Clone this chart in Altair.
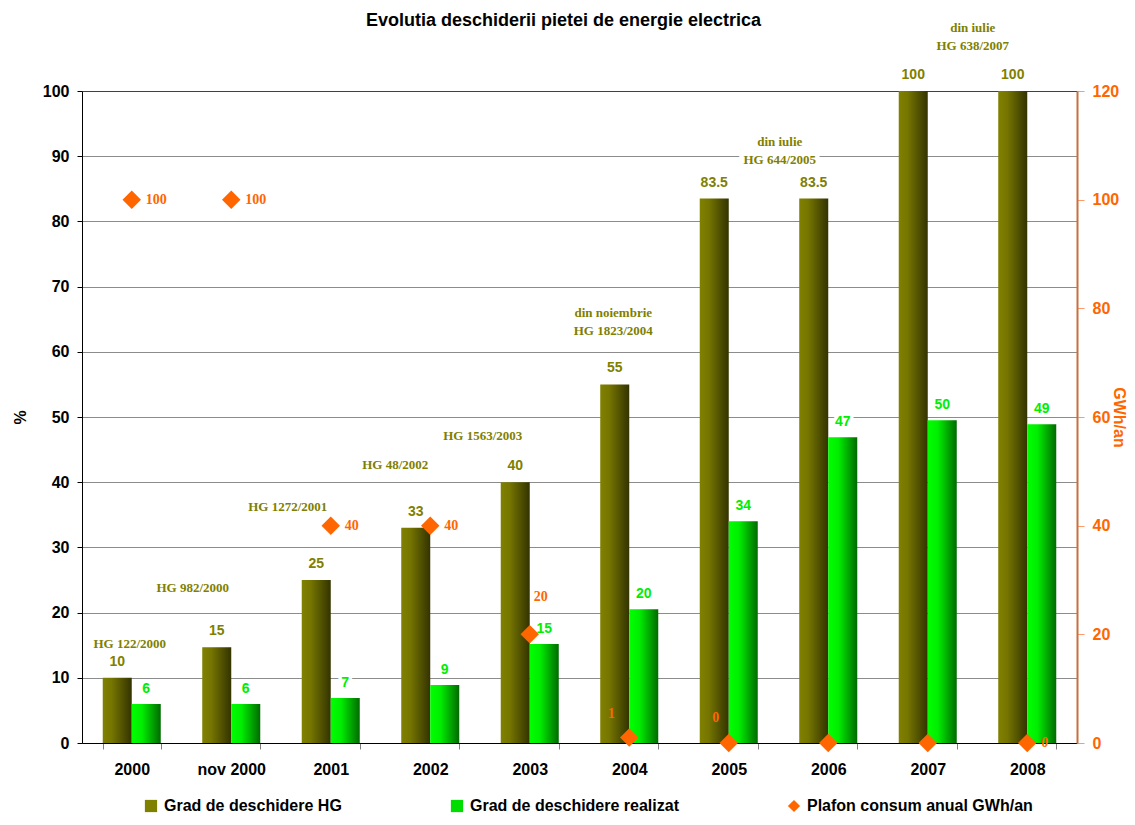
import altair as alt
import pandas as pd

# ---------------- data ----------------
categories = ["2000", "nov 2000", "2001", "2002", "2003", "2004", "2005", "2006", "2007", "2008"]
hg_values = [10, 14.7, 25, 33, 40, 55, 83.5, 83.5, 100, 100]
hg_labels = ["10", "15", "25", "33", "40", "55", "83.5", "83.5", "100", "100"]
real_values = [6, 6, 6.9, 8.9, 15.2, 20.5, 34, 46.9, 49.5, 48.9]
real_labels = ["6", "6", "7", "9", "15", "20", "34", "47", "50", "49"]
plafon_values = [100, 100, 40, 40, 20, 1, 0, 0, 0, 0]
plafon_labels = ["100", "100", "40", "40", "20", "1", "0", "", "", "0"]
series_names = ["Grad de deschidere HG", "Grad de deschidere realizat", "Plafon consum anual GWh/an"]

annot_texts = ["HG 122/2000", "HG 982/2000", "HG 1272/2001", "HG 48/2002", "HG 1563/2003",
               "din noiembrie\nHG 1823/2004", "din iulie\nHG 644/2005", "din iulie\nHG 638/2007"]
annot_cats = ["2000", "2000", "2001", "2002", "2003", "2004", "2005", "2007"]
annot_levels = [15.2, 23.8, 36.2, 42.6, 47.1, 66.0, 92.2, 109.7]
annot_dx = [-2, 61, -43, -35, -47, -16, 51, 45]

title_text = "Evolutia deschiderii pietei de energie electrica"

# ---------------- styles ----------------
OLIVE = "#808000"
GREEN = "#00EE00"
ORANGE = "#FF6600"
SANS = "Liberation Sans"
SERIF = "Liberation Serif"

bars_df = pd.DataFrame({
    "cat": categories * 2,
    "series": ["HG"] * len(categories) + ["real"] * len(categories),
    "value": hg_values + real_values,
    "label": hg_labels + real_labels,
})
plafon_df = pd.DataFrame({"cat": categories, "plafon": plafon_values, "label": plafon_labels})
legend_df = pd.DataFrame({"cat": [categories[0]] * 3, "value": [0, 0, 0], "series": series_names})
annot_df = pd.DataFrame({"text": annot_texts, "cat": annot_cats, "value": annot_levels,
                         "idx": list(range(len(annot_texts)))})

x_axis = alt.Axis(title=None, labelAngle=0, labelFont=SANS, labelFontSize=16, labelFontWeight="bold",
                  labelColor="black", tickBand="extent", tickColor="#808080", tickSize=6,
                  domainColor="black", labelPadding=12)
X = alt.X("cat:N", sort=categories, axis=x_axis,
          scale=alt.Scale(paddingInner=0.417, paddingOuter=0.2085))
XOFF = alt.XOffset("series:N", scale=alt.Scale(domain=["HG", "real"], paddingInner=0, paddingOuter=0))

left_axis = alt.Axis(title="%", values=list(range(0, 101, 10)), labelFont=SANS, labelFontSize=16,
                     labelFontWeight="bold", labelColor="black", tickColor="black", tickSize=5,
                     domainColor="black", labelPadding=8, titleFont=SANS, titleFontSize=16,
                     titleFontWeight="bold", titleColor="black", titlePadding=14, titleAngle=-90,
                     grid=True, gridColor={"condition": {"test": "datum.value === 100", "value": "#404040"},
                                           "value": "#8c8c8c"})
YL = alt.Y("value:Q", scale=alt.Scale(domain=[0, 100], nice=False), axis=left_axis)
YL_noaxis = alt.Y("value:Q", scale=alt.Scale(domain=[0, 100], nice=False), axis=None)

right_axis = alt.Axis(title="GWh/an", orient="right", values=list(range(0, 121, 20)), labelFont=SANS,
                      labelFontSize=16, labelFontWeight="bold", labelColor=ORANGE, tickColor="#FF9966",
                      tickSize=7, domainColor="#C8703C", domainWidth=2, labelPadding=8, titleFont=SANS,
                      titleFontSize=16, titleFontWeight="bold", titleColor=ORANGE, titlePadding=-8,
                      grid=False)
YR = alt.Y("plafon:Q", scale=alt.Scale(domain=[0, 120], nice=False), axis=right_axis)

grad_hg = alt.Gradient(gradient="linear", x1=0, x2=1, y1=0, y2=0,
                       stops=[alt.GradientStop(offset=0, color="#808000"),
                              alt.GradientStop(offset=0.3, color="#767600"),
                              alt.GradientStop(offset=1, color="#333300")])
grad_real = alt.Gradient(gradient="linear", x1=0, x2=1, y1=0, y2=0,
                         stops=[alt.GradientStop(offset=0, color="#00FF00"),
                                alt.GradientStop(offset=0.35, color="#00EE00"),
                                alt.GradientStop(offset=1, color="#006A00")])

base = alt.Chart(bars_df)
bars_hg = base.transform_filter("datum.series == 'HG'").mark_bar(fill=grad_hg, strokeWidth=0).encode(
    x=X, xOffset=XOFF, y=YL)
bars_real = base.transform_filter("datum.series == 'real'").mark_bar(fill=grad_real, strokeWidth=0).encode(
    x=X, xOffset=XOFF, y=YL)

lab_hg = base.transform_filter("datum.series == 'HG'").mark_text(
    font=SANS, fontSize=14, fontWeight="bold", color=OLIVE, baseline="bottom", dy=-9).encode(
    x=X, xOffset=XOFF, y=YL, text="label:N")
lab_real_halo = base.transform_filter("datum.series == 'real'").mark_text(
    font=SANS, fontSize=14, fontWeight="bold", color="white", stroke="white", strokeWidth=7,
    strokeJoin="round", baseline="bottom", dy=-8).encode(x=X, xOffset=XOFF, y=YL, text="label:N")
lab_real = base.transform_filter("datum.series == 'real'").mark_text(
    font=SANS, fontSize=14, fontWeight="bold", color=GREEN, baseline="bottom", dy=-8).encode(
    x=X, xOffset=XOFF, y=YL, text="label:N")

leg = alt.Legend(title=None, orient="none", legendX=61, legendY=707, direction="horizontal", columns=3,
                 columnPadding=107, symbolSize=150, symbolOpacity=1, symbolStrokeWidth=0,
                 labelFont=SANS, labelFontSize=16, labelFontWeight="bold", labelColor="black",
                 labelOffset=5, padding=0, labelLimit=400)
legend_layer = alt.Chart(legend_df).mark_point(filled=True, opacity=0).encode(
    x=X, y=YL,
    color=alt.Color("series:N", scale=alt.Scale(domain=series_names, range=[OLIVE, "#00DD00", ORANGE]), legend=leg),
    shape=alt.Shape("series:N", scale=alt.Scale(domain=series_names, range=["square", "square", "diamond"]), legend=leg),
)

left = alt.layer(bars_hg, bars_real, lab_hg, lab_real_halo, lab_real, legend_layer)

pbase = alt.Chart(plafon_df)
diamonds = pbase.mark_point(shape="diamond", filled=True, size=340, color=ORANGE, opacity=1).encode(x=X, y=YR)
ptext = dict(font=SERIF, fontSize=14, fontWeight="bold", color=ORANGE, baseline="middle")
pl_right = pbase.transform_filter(
    alt.FieldOneOfPredicate(field="cat", oneOf=["2000", "nov 2000", "2001", "2002", "2008"])
).mark_text(align="left", dx=14, **ptext).encode(x=X, y=YR, text="label:N")
pl_2003 = pbase.transform_filter("datum.cat == '2003'").mark_text(
    align="center", dx=11, dy=-37, **ptext).encode(x=X, y=YR, text="label:N")
pl_2004 = pbase.transform_filter("datum.cat == '2004'").mark_text(
    align="center", dx=-18, dy=-24, **ptext).encode(x=X, y=YR, text="label:N")
pl_2005 = pbase.transform_filter("datum.cat == '2005'").mark_text(
    align="center", dx=-13, dy=-25, **ptext).encode(x=X, y=YR, text="label:N")
right = alt.layer(diamonds, pl_right, pl_2003, pl_2004, pl_2005)

annot_layers = []
for i, d in enumerate(annot_dx):
    a = alt.Chart(annot_df).transform_filter(f"datum.idx == {i}")
    common = dict(font=SERIF, fontSize=13, fontWeight="bold", align="center", baseline="middle",
                  lineBreak="\n", lineHeight=18, dx=d)
    annot_layers.append(a.mark_text(color="white", stroke="white", strokeWidth=9, strokeJoin="round",
                                    **common).encode(x=X, y=YL_noaxis, text="text:N"))
    annot_layers.append(a.mark_text(color=OLIVE, **common).encode(x=X, y=YL_noaxis, text="text:N"))
annots = alt.layer(*annot_layers)

chart = alt.layer(left, right, annots).resolve_scale(y="independent").properties(
    width=995, height=652,
    autosize=alt.AutoSizeParams(type="none"),
    padding={"left": 74, "top": 83, "right": 50, "bottom": 74},
    title=alt.TitleParams(title_text, font=SANS, fontSize=18, fontWeight="bold", color="black",
                          anchor="middle", dx=-16, dy=18, offset=10),
).configure_view(stroke=None).configure(background="white")

chart.save("out.html", embed_options={"renderer": "svg", "actions": False})
